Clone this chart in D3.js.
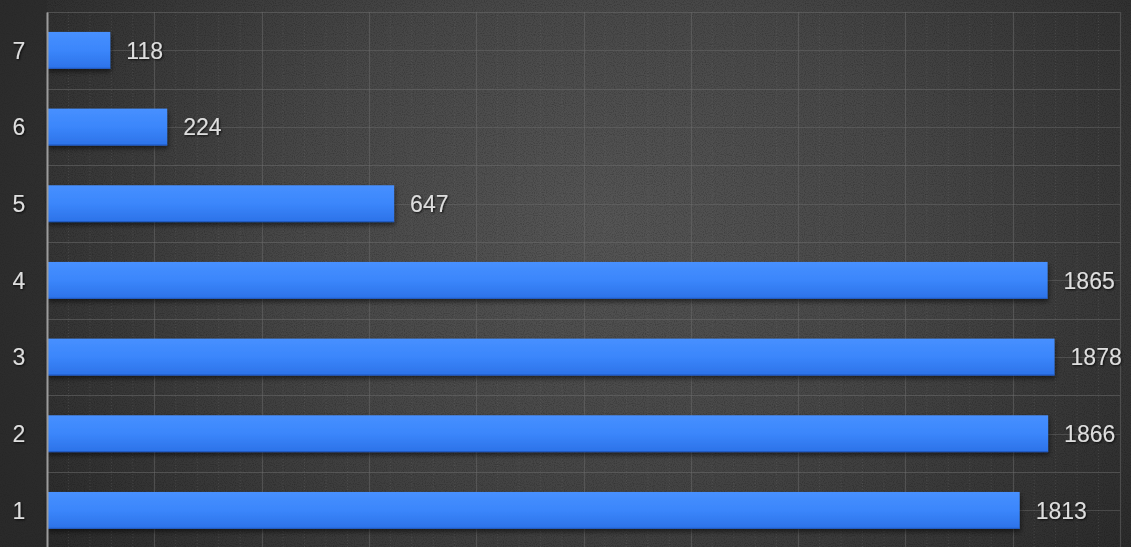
<!DOCTYPE html>
<html>
<head>
<meta charset="utf-8">
<script src="https://cdn.jsdelivr.net/npm/d3@7/dist/d3.min.js"></script>
<style>
html,body{margin:0;padding:0;background:#2e2e2e;overflow:hidden;}
svg{display:block;}
</style>
</head>
<body>
<svg id="chart" width="1131" height="547"></svg>
<script>
const categories = ["7","6","5","4","3","2","1"];
const values = [118, 224, 647, 1865, 1878, 1866, 1813];
const xDomain = [0, 2000];

const W = 1131, H = 547;
const margin = {left: 47, top: 12, right: 11};
const plotBottom = 548.7;

const svg = d3.select("#chart");
const defs = svg.append("defs");

const bg = defs.append("radialGradient").attr("id","bg")
  .attr("gradientUnits","userSpaceOnUse")
  .attr("cx",600).attr("cy",220).attr("r",700)
  .attr("gradientTransform","matrix(1,0,0,0.75,0,55)");
bg.append("stop").attr("offset","0%").attr("stop-color","#555555");
bg.append("stop").attr("offset","45%").attr("stop-color","#474747");
bg.append("stop").attr("offset","100%").attr("stop-color","#2a2a2a");

const noise = defs.append("filter").attr("id","noise").attr("x",0).attr("y",0).attr("width","100%").attr("height","100%");
noise.append("feTurbulence").attr("type","fractalNoise").attr("baseFrequency",0.9).attr("numOctaves",1).attr("seed",3).attr("result","t");
noise.append("feColorMatrix").attr("in","t").attr("type","matrix")
  .attr("values","0 0 0 0 0  0 0 0 0 0  0 0 0 0 0  0 0 0 -1.6 0.9").attr("result","n");
noise.append("feComposite").attr("in","n").attr("in2","SourceGraphic").attr("operator","in");

const barGrad = defs.append("linearGradient").attr("id","barGrad").attr("x1",0).attr("y1",0).attr("x2",0).attr("y2",1);
barGrad.append("stop").attr("offset","0%").attr("stop-color","#4790ff");
barGrad.append("stop").attr("offset","50%").attr("stop-color","#3b86fb");
barGrad.append("stop").attr("offset","100%").attr("stop-color","#2c72e8");

const shadow = defs.append("filter").attr("id","shadow").attr("x","-5%").attr("y","-30%").attr("width","110%").attr("height","170%");
shadow.append("feDropShadow").attr("dx",1).attr("dy",3).attr("stdDeviation",2.5).attr("flood-color","#000").attr("flood-opacity",0.55);

const txtShadow = defs.append("filter").attr("id","txtShadow").attr("x","-20%").attr("y","-30%").attr("width","140%").attr("height","160%");
txtShadow.append("feDropShadow").attr("dx",1).attr("dy",1).attr("stdDeviation",0.8).attr("flood-color","#000").attr("flood-opacity",0.8);

svg.append("rect").attr("width",W).attr("height",H).attr("fill","url(#bg)");
svg.append("rect").attr("width",W).attr("height",H).attr("fill","#1a1a1a").attr("opacity",0.35).attr("filter","url(#noise)");
svg.append("rect").attr("width",margin.left).attr("height",H).attr("fill","#2a2a2a").attr("opacity",0.55);

const x = d3.scaleLinear().domain(xDomain).range([margin.left, W - margin.right]);
const y = d3.scaleBand().domain(categories).range([margin.top, plotBottom]).paddingInner(0.52).paddingOuter(0.26);

const grid = svg.append("g");
// minor vertical
grid.selectAll("line.vminor").data(d3.range(xDomain[0], xDomain[1] + 1, 40).filter(v => v % 200 !== 0))
  .join("line").attr("x1",d=>x(d)).attr("x2",d=>x(d)).attr("y1",margin.top).attr("y2",plotBottom)
  .attr("stroke","#6a6a6a").attr("stroke-opacity",0.35).attr("stroke-width",1).attr("stroke-dasharray","1,2");
// major vertical
grid.selectAll("line.vmajor").data(x.ticks(10))
  .join("line").attr("x1",d=>Math.round(x(d))+0.5).attr("x2",d=>Math.round(x(d))+0.5).attr("y1",margin.top).attr("y2",plotBottom)
  .attr("stroke","#6c6c6c").attr("stroke-opacity",0.5).attr("stroke-width",1.2);
// horizontal band boundaries
const step = y.step();
const bounds = d3.range(categories.length + 1).map(i => margin.top + i * step);
grid.selectAll("line.hmajor").data(bounds)
  .join("line").attr("x1",margin.left).attr("x2",x(xDomain[1])).attr("y1",d=>Math.round(d)+0.5).attr("y2",d=>Math.round(d)+0.5)
  .attr("stroke","#6c6c6c").attr("stroke-opacity",0.55).attr("stroke-width",1.2);
// horizontal band centers
grid.selectAll("line.hminor").data(categories)
  .join("line").attr("x1",margin.left).attr("x2",x(xDomain[1]))
  .attr("y1",d=>Math.round(y(d)+y.bandwidth()/2)+0.5).attr("y2",d=>Math.round(y(d)+y.bandwidth()/2)+0.5)
  .attr("stroke","#6c6c6c").attr("stroke-opacity",0.45).attr("stroke-width",1);

// bars
svg.append("g").selectAll("rect").data(categories)
  .join("rect")
  .attr("x", x(0))
  .attr("y", d => y(d))
  .attr("width", (d,i) => x(values[i]) - x(0))
  .attr("height", y.bandwidth())
  .attr("fill","url(#barGrad)")
  .attr("filter","url(#shadow)");
svg.append("g").selectAll("line").data(categories)
  .join("line")
  .attr("x1", x(0)).attr("x2",(d,i)=>x(values[i]))
  .attr("y1", d => y(d)+y.bandwidth()-0.5).attr("y2", d => y(d)+y.bandwidth()-0.5)
  .attr("stroke","#2159c0").attr("stroke-width",1);

// left axis
const yAxis = d3.axisLeft(y).tickSize(0).tickPadding(0);
const ax = svg.append("g").attr("transform",`translate(${margin.left},0)`).call(yAxis);
ax.select(".domain").attr("stroke","#9c9c9c").attr("stroke-width",2);
ax.selectAll("text")
  .attr("x", -28).attr("text-anchor","middle").attr("dy","0.36em")
  .attr("font-family","'Liberation Sans', Arial, sans-serif").attr("font-size",23)
  .attr("fill","#dedede").attr("filter","url(#txtShadow)");

// value labels
svg.append("g").selectAll("text").data(categories)
  .join("text")
  .attr("x",(d,i)=>x(values[i]) + 16)
  .attr("y", d => y(d) + y.bandwidth()/2)
  .attr("dy","0.36em")
  .attr("font-family","'Liberation Sans', Arial, sans-serif")
  .attr("font-size",23)
  .attr("fill","#dedede")
  .attr("filter","url(#txtShadow)")
  .text((d,i)=>values[i]);
</script>
</body>
</html>
